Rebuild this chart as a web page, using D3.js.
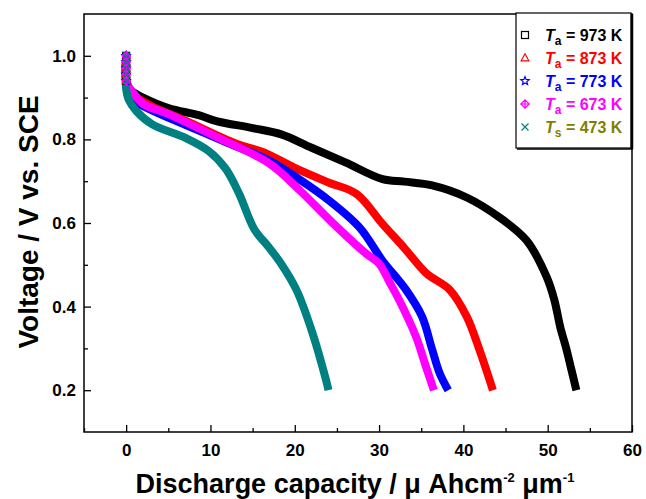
<!DOCTYPE html>
<html>
<head>
<meta charset="utf-8">
<script src="https://cdn.jsdelivr.net/npm/d3@7"></script>
<style>
  body { margin: 0; background: #fff; }
  svg text { font-family: "Liberation Sans", Arial, Helvetica, sans-serif; font-weight: bold; }
</style>
</head>
<body>
<div id="chart"></div>
<script>
// capacity (uAh cm-2 um-1) / voltage (V vs SCE)
var cap973 = [0, 0, 0.3, 0.7, 2, 5, 8.6, 10.7, 15, 18.4, 22, 26, 30.4, 33, 36.3, 40.4, 44.3, 47.5, 49.9, 50.8, 51.5, 52.2, 52.8, 53.4];
var volt973 = [1.0, 0.94, 0.925, 0.915, 0.9, 0.875, 0.858, 0.844, 0.827, 0.812, 0.78, 0.745, 0.705, 0.699, 0.69, 0.661, 0.613, 0.558, 0.47, 0.415, 0.35, 0.3, 0.25, 0.2];

var cap873 = [0, 0, 0.3, 0.7, 3, 7.1, 13, 16.2, 20.2, 24, 27.3, 30.4, 33, 35.6, 38.4, 40.4, 41.9, 43.5];
var volt873 = [1.0, 0.94, 0.92, 0.908, 0.88, 0.844, 0.79, 0.77, 0.73, 0.697, 0.67, 0.598, 0.54, 0.48, 0.44, 0.376, 0.297, 0.2];

var cap773 = [0, 0, 0.3, 0.9, 3, 7, 12, 17, 20.5, 24, 27.7, 30.4, 33.2, 35.1, 36.3, 37.2, 38.2];
var volt773 = [1.0, 0.94, 0.915, 0.893, 0.87, 0.835, 0.792, 0.749, 0.705, 0.655, 0.589, 0.51, 0.44, 0.376, 0.297, 0.24, 0.2];

var cap673 = [0, 0, 0.3, 0.7, 2, 5.1, 11, 17, 20.5, 24.5, 28.5, 30, 31.2, 32.4, 34.4, 35.5, 36.5];
var volt673 = [1.0, 0.94, 0.925, 0.915, 0.885, 0.86, 0.803, 0.742, 0.68, 0.6, 0.526, 0.503, 0.46, 0.415, 0.327, 0.26, 0.2];

var cap473 = [0, 0, 0.3, 1.2, 3.1, 7.1, 9.8, 11.8, 13.4, 15.2, 16.8, 18.3, 20.2, 22.1, 23.7, 24];
var volt473 = [1.0, 0.92, 0.895, 0.868, 0.836, 0.803, 0.772, 0.73, 0.67, 0.585, 0.545, 0.505, 0.44, 0.337, 0.225, 0.2];

// start points where the markers are visible (capacity 0)
var startVolts = [1.0, 0.985, 0.97, 0.955, 0.94];

var xTicks = [0, 10, 20, 30, 40, 50, 60];
var xMinor = [-5, 5, 15, 25, 35, 45, 55];
var yTicks = [0.2, 0.4, 0.6, 0.8, 1.0];
var yMinor = [0.3, 0.5, 0.7, 0.9];

var series = [
  { name: "973", sub: "a", cap: cap973, volt: volt973, color: "#000000", text: "#000000", sym: "square" },
  { name: "873", sub: "a", cap: cap873, volt: volt873, color: "#ff0000", text: "#ff0000", sym: "triangle" },
  { name: "773", sub: "a", cap: cap773, volt: volt773, color: "#0000ff", text: "#0000ff", sym: "star" },
  { name: "673", sub: "a", cap: cap673, volt: volt673, color: "#ff00ff", text: "#ff00ff", sym: "cdiamond" },
  { name: "473", sub: "s", cap: cap473, volt: volt473, color: "#008080", text: "#808000", sym: "cross" }
];

var width = 646, height = 499;
var plotLeft = 84, plotRight = 632, plotTop = 14, plotBottom = 432;

var svg = d3.select("#chart").append("svg")
  .attr("width", width)
  .attr("height", height);

var xScale = d3.scaleLinear().domain([-5, 60]).range([plotLeft, plotRight]);
var yScale = d3.scaleLinear().domain([0.1, 1.1]).range([plotBottom, plotTop]);

// curves
var line = d3.line()
  .x(function(d) { return xScale(d[0]); })
  .y(function(d) { return yScale(d[1]); })
  .curve(d3.curveCatmullRom.alpha(0.5));

function drawSymbol(g, sym, x, y, color, s) {
  var sw = 1.2;
  if (sym === "square") {
    g.append("rect").attr("x", x - s).attr("y", y - s).attr("width", 2 * s).attr("height", 2 * s)
      .attr("fill", "none").attr("stroke", color).attr("stroke-width", sw);
  } else if (sym === "triangle") {
    g.append("path").attr("d", "M" + x + "," + (y - s * 1.2) + "L" + (x + s * 1.1) + "," + (y + s * 0.8) + "L" + (x - s * 1.1) + "," + (y + s * 0.8) + "Z")
      .attr("fill", "none").attr("stroke", color).attr("stroke-width", sw);
  } else if (sym === "star") {
    var pts = [];
    for (var i = 0; i < 10; i++) {
      var r = i % 2 === 0 ? s * 1.25 : s * 0.55;
      var a = -Math.PI / 2 + i * Math.PI / 5;
      pts.push([x + r * Math.cos(a), y + r * Math.sin(a)]);
    }
    g.append("path").attr("d", "M" + pts.join("L") + "Z")
      .attr("fill", "none").attr("stroke", color).attr("stroke-width", sw);
  } else if (sym === "cdiamond") {
    g.append("path").attr("d", "M" + x + "," + (y - s * 1.2) + "L" + (x + s * 1.2) + "," + y + "L" + x + "," + (y + s * 1.2) + "L" + (x - s * 1.2) + "," + y + "Z" +
      "M" + x + "," + (y - s * 1.2) + "V" + (y + s * 1.2) + "M" + (x - s * 1.2) + "," + y + "H" + (x + s * 1.2))
      .attr("fill", "none").attr("stroke", color).attr("stroke-width", sw);
  } else {
    g.append("path").attr("d", "M" + (x - s) + "," + (y - s) + "L" + (x + s) + "," + (y + s) + "M" + (x + s) + "," + (y - s) + "L" + (x - s) + "," + (y + s))
      .attr("fill", "none").attr("stroke", color).attr("stroke-width", sw);
  }
}

var curves = svg.append("g").attr("class", "curves");
series.forEach(function(s) {
  var pts = s.cap.map(function(c, i) { return [c, s.volt[i]]; });
  curves.append("path")
    .attr("d", line(pts))
    .attr("fill", "none")
    .attr("stroke", s.color)
    .attr("stroke-width", 8)
    .attr("stroke-linejoin", "round");
});
series.forEach(function(s) {
  var g = curves.append("g");
  startVolts.forEach(function(v) {
    drawSymbol(g, s.sym, xScale(0), yScale(v), s.color, 3.5);
  });
});

// frame
svg.append("rect")
  .attr("x", plotLeft).attr("y", plotTop)
  .attr("width", plotRight - plotLeft).attr("height", plotBottom - plotTop)
  .attr("fill", "none").attr("stroke", "#000").attr("stroke-width", 1.5);

// axes, ticks inward
var xAxis = d3.axisBottom(xScale).tickValues(xTicks).tickSize(-7).tickPadding(12).tickFormat(d3.format("d"));
var yAxis = d3.axisLeft(yScale).tickValues(yTicks).tickSize(-7).tickPadding(8).tickFormat(d3.format(".1f"));

var gx = svg.append("g").attr("transform", "translate(0," + plotBottom + ")").call(xAxis);
var gy = svg.append("g").attr("transform", "translate(" + plotLeft + ",0)").call(yAxis);
svg.append("g").attr("transform", "translate(0," + plotBottom + ")")
  .call(d3.axisBottom(xScale).tickValues(xMinor).tickSize(-4).tickFormat(""));
svg.append("g").attr("transform", "translate(" + plotLeft + ",0)")
  .call(d3.axisLeft(yScale).tickValues(yMinor).tickSize(-4).tickFormat(""));

svg.selectAll(".domain").remove();
svg.selectAll(".tick line").attr("stroke", "#000").attr("stroke-width", 1.3);
gx.selectAll("text").attr("font-size", 17).attr("fill", "#000").attr("font-family", "Liberation Sans, Arial, sans-serif").attr("font-weight", "bold");
gy.selectAll("text").attr("font-size", 17).attr("fill", "#000").attr("font-family", "Liberation Sans, Arial, sans-serif").attr("font-weight", "bold");

// axis titles
var xt = svg.append("text")
  .attr("x", 355).attr("y", 493)
  .attr("text-anchor", "middle")
  .attr("font-size", 27);
xt.append("tspan").text("Discharge capacity / \u03bc Ahcm");
xt.append("tspan").attr("font-size", 13).attr("dy", -11).text("-2");
xt.append("tspan").attr("dy", 11).text(" \u03bcm");
xt.append("tspan").attr("font-size", 13).attr("dy", -11).text("-1");

svg.append("text")
  .attr("transform", "translate(38,222) rotate(-90)")
  .attr("text-anchor", "middle")
  .attr("font-size", 28)
  .text("Voltage / V vs. SCE");

// legend
var lg = svg.append("g").attr("class", "legend");
lg.append("rect")
  .attr("x", 516).attr("y", 13).attr("width", 115).attr("height", 135)
  .attr("fill", "#fff").attr("stroke", "#000").attr("stroke-width", 1.2);
lg.append("line").attr("x1", 632).attr("x2", 632).attr("y1", 14).attr("y2", 149)
  .attr("stroke", "#000").attr("stroke-width", 2.5);
lg.append("line").attr("x1", 517).attr("x2", 633).attr("y1", 149).attr("y2", 149)
  .attr("stroke", "#000").attr("stroke-width", 1.5);

series.forEach(function(s, i) {
  var y = 35 + i * 23;
  drawSymbol(lg, s.sym, 525, y, s.color, 3.5);
  var t = lg.append("text").attr("x", 545).attr("y", y + 6).attr("font-size", 16).attr("fill", s.text);
  t.append("tspan").attr("font-style", "italic").text("T");
  t.append("tspan").attr("font-size", 12).attr("dy", 4).text(s.sub);
  t.append("tspan").attr("dy", -4).text(" = " + s.name + " K");
});
</script>
</body>
</html>
